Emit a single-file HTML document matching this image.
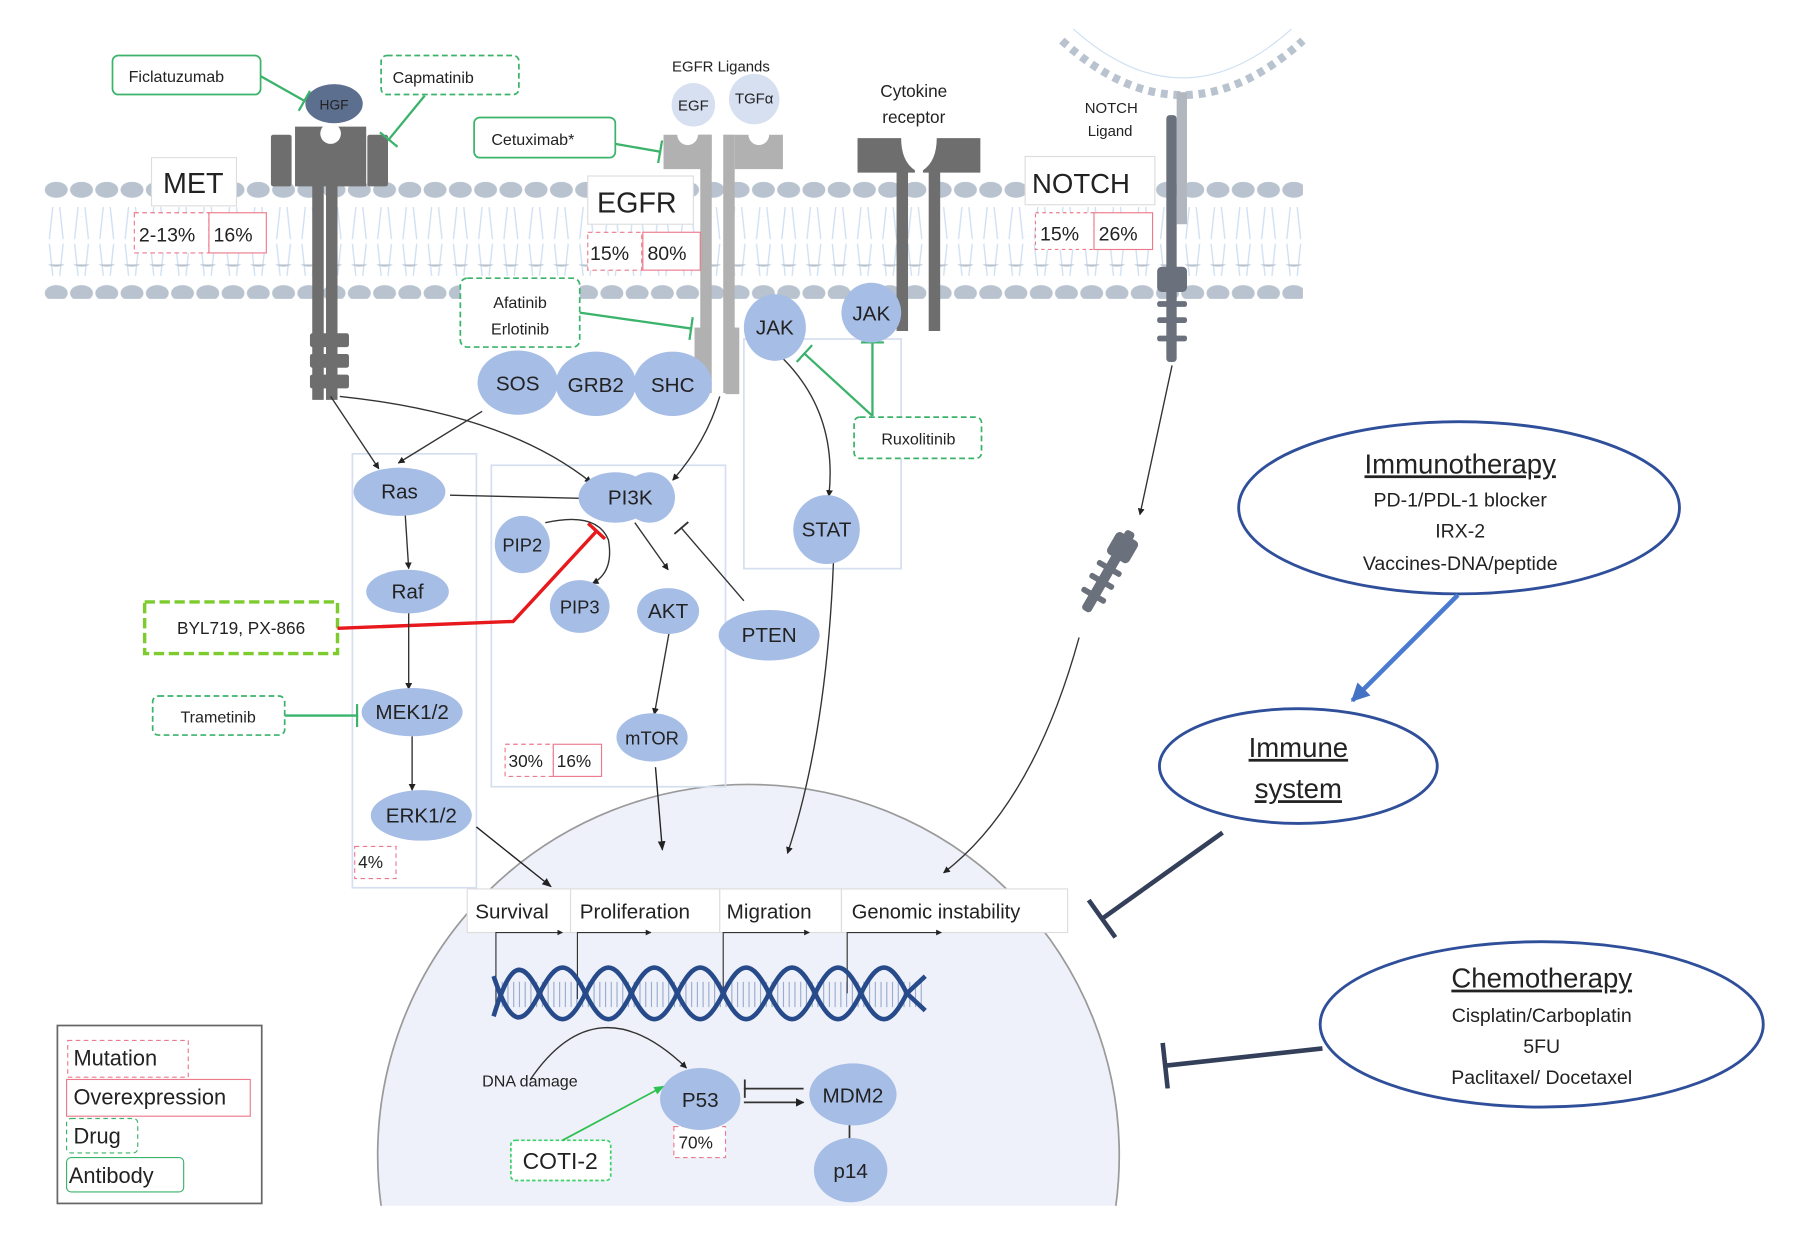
<!DOCTYPE html>
<html><head><meta charset="utf-8">
<style>
html,body{margin:0;padding:0;background:#fff;width:1800px;height:1244px;overflow:hidden;}
svg{display:block;}
text{font-family:"Liberation Sans",sans-serif;fill:#222;}
</style></head><body>
<svg width="1800" height="1244" viewBox="0 0 1568 1083" xmlns="http://www.w3.org/2000/svg">
<defs>
<pattern id="heads" x="38" y="0" width="22" height="30" patternUnits="userSpaceOnUse">
<ellipse cx="11" cy="15" rx="10" ry="7" fill="#b8c3cf"/>
</pattern>
<pattern id="tails" x="38" y="0" width="22" height="60" patternUnits="userSpaceOnUse">
<path d="M8 0 L5 28 M14 0 L17 28 M5 32 L8 60 M17 32 L14 60" stroke="#cfe0f3" stroke-width="1.2" fill="none"/>
</pattern>
<marker id="ar" viewBox="0 0 10 10" refX="9" refY="5" markerWidth="7" markerHeight="7" orient="auto"><path d="M0 1 L10 5 L0 9z" fill="#222"/></marker>
<marker id="arB" viewBox="0 0 10 10" refX="9" refY="5" markerWidth="5" markerHeight="5" orient="auto"><path d="M0 0 L10 5 L0 10z" fill="#222"/></marker>
<marker id="arBlue" viewBox="0 0 10 10" refX="9" refY="5" markerWidth="4" markerHeight="4" orient="auto"><path d="M0 0 L10 5 L0 10z" fill="#4472c4"/></marker>
<marker id="arG" viewBox="0 0 10 10" refX="9" refY="5" markerWidth="6" markerHeight="6" orient="auto"><path d="M0 1 L10 5 L0 9z" fill="#2ec04f"/></marker>
<marker id="tG" viewBox="0 0 4 20" refX="2" refY="10" markerWidth="4" markerHeight="20" markerUnits="userSpaceOnUse" orient="auto"><rect x="0" y="0" width="2" height="20" fill="#3bb36a"/></marker>
<marker id="tK" viewBox="0 0 4 20" refX="2" refY="10" markerWidth="4" markerHeight="16" markerUnits="userSpaceOnUse" orient="auto"><rect x="0" y="0" width="2" height="20" fill="#333"/></marker>
<marker id="tR" viewBox="0 0 4 20" refX="2" refY="10" markerWidth="4" markerHeight="22" markerUnits="userSpaceOnUse" orient="auto"><rect x="0" y="0" width="3" height="20" fill="#e8191c"/></marker>
<marker id="tBig" viewBox="0 0 4 40" refX="2" refY="20" markerWidth="5" markerHeight="40" markerUnits="userSpaceOnUse" orient="auto"><rect x="0" y="0" width="4" height="40" fill="#34405a"/></marker>
<clipPath id="nc"><rect x="0" y="0" width="1568" height="1050"/></clipPath>
</defs>

<rect x="38" y="180" width="1097" height="60" fill="url(#tails)"/>
<rect x="38" y="158" width="1097" height="30" fill="url(#heads)"/>
<rect x="38" y="230" width="1097" height="30" fill="url(#heads)"/>

<path d="M925 35 Q1030 130 1135 35" stroke="#b8c3cf" stroke-width="7" stroke-dasharray="6 5" fill="none"/>
<path d="M935 25 Q1030 110 1125 25" stroke="#cfe0f3" stroke-width="1" fill="none"/>
<rect x="1025" y="80" width="9" height="115" fill="#b2b7bf"/>

<g clip-path="url(#nc)">
<circle cx="652" cy="1006" r="323" fill="#eef1f9" stroke="#9a9a9a" stroke-width="1.5"/>
</g>

<rect x="307" y="395" width="108" height="378" fill="none" stroke="#d5dff0" stroke-width="1.5"/>
<rect x="428" y="405" width="204" height="280" fill="none" stroke="#d5dff0" stroke-width="1.5"/>
<rect x="648" y="295" width="137" height="200" fill="none" stroke="#d5dff0" stroke-width="1.5"/>

<g fill="#6e6e6e">
<rect x="236" y="117" width="18" height="45" rx="2"/>
<rect x="320" y="117" width="18" height="45" rx="2"/>
<path d="M257 110 h62 v52 h-62z"/>
<rect x="272" y="160" width="10" height="188"/>
<rect x="284" y="160" width="10" height="188"/>
<rect x="270" y="290" width="34" height="12" rx="2"/>
<rect x="270" y="308" width="34" height="12" rx="2"/>
<rect x="270" y="326" width="34" height="12" rx="2"/>
</g>
<circle cx="288" cy="116" r="9" fill="#fff"/>
<ellipse cx="291" cy="90" rx="25" ry="17" fill="#5d6f8e"/>
<text x="291" y="95" font-size="12" text-anchor="middle" fill="#2c3850">HGF</text>

<g fill="#b1b1b1">
<path d="M578 117 h42 v30 h-42z"/>
<path d="M640 117 h42 v30 h-42z"/>
<rect x="610" y="117" width="10" height="225"/>
<rect x="630" y="117" width="10" height="225"/>
<rect x="605" y="285" width="12" height="58"/>
<rect x="632" y="285" width="12" height="58"/>
</g>
<circle cx="599" cy="117" r="9" fill="#fff"/>
<circle cx="661" cy="117" r="9" fill="#fff"/>
<circle cx="604" cy="91" r="19" fill="#d6e0f1"/>
<text x="604" y="96" font-size="13" text-anchor="middle">EGF</text>
<circle cx="657" cy="86" r="22" fill="#d6e0f1"/>
<text x="657" y="90" font-size="13" text-anchor="middle">TGFα</text>
<text x="628" y="62" font-size="13" text-anchor="middle">EGFR Ligands</text>

<g fill="#6e6e6e">
<path d="M747 120 h38 q0 20 12 28 v2 h-6 v138 h-10 v-138 h-34z"/>
<path d="M854 120 h-38 q0 20 -12 28 v2 h5 v138 h10 v-138 h35z"/>
</g>
<text x="796" y="84" font-size="15" text-anchor="middle">Cytokine</text>
<text x="796" y="107" font-size="15" text-anchor="middle">receptor</text>

<g fill="#6a707c">
<rect x="1016" y="100" width="9" height="215" rx="3"/>
<rect x="1008" y="232" width="26" height="22" rx="4"/>
<rect x="1008" y="262" width="26" height="5" rx="2"/>
<rect x="1008" y="276" width="26" height="5" rx="2"/>
<rect x="1008" y="292" width="26" height="5" rx="2"/>
</g>
<text x="968" y="98" font-size="13" text-anchor="middle">NOTCH</text>
<text x="967" y="118" font-size="13" text-anchor="middle">Ligand</text>
<g fill="#6a707c" transform="translate(965,497) rotate(30)">
<rect x="-4" y="-40" width="9" height="80" rx="3"/>
<rect x="-10" y="-35" width="22" height="22" rx="4"/>
<rect x="-12" y="-5" width="24" height="5" rx="2"/>
<rect x="-12" y="8" width="24" height="5" rx="2"/>
<rect x="-12" y="22" width="24" height="5" rx="2"/>
</g>

<rect x="132" y="137" width="74" height="42" fill="#fff" stroke="#ddd"/>
<text x="142" y="168" font-size="25">MET</text>
<rect x="512" y="153" width="92" height="42" fill="#fff" stroke="#ddd"/>
<text x="520" y="185" font-size="25">EGFR</text>
<rect x="893" y="136" width="113" height="42" fill="#fff" stroke="#ddd"/>
<text x="899" y="168" font-size="24">NOTCH</text>

<g font-size="17">
<rect x="117" y="185" width="65" height="35" fill="#fff" stroke="#ec7a8c" stroke-dasharray="4 3"/>
<text x="121" y="210">2-13%</text>
<rect x="182" y="185" width="50" height="35" fill="#fff" stroke="#ec7a8c"/>
<text x="186" y="210">16%</text>
<rect x="512" y="202" width="47" height="33" fill="#fff" stroke="#ec7a8c" stroke-dasharray="4 3"/>
<text x="514" y="226">15%</text>
<rect x="560" y="202" width="50" height="33" fill="#fff" stroke="#ec7a8c"/>
<text x="564" y="226">80%</text>
<rect x="902" y="185" width="51" height="32" fill="#fff" stroke="#ec7a8c" stroke-dasharray="3 3"/>
<text x="906" y="209">15%</text>
<rect x="953" y="185" width="51" height="32" fill="#fff" stroke="#ec7a8c"/>
<text x="957" y="209">26%</text>
</g>
<g font-size="15">
<rect x="440" y="648" width="42" height="28" fill="#fff" stroke="#ec7a8c" stroke-dasharray="4 3"/>
<text x="443" y="668">30%</text>
<rect x="482" y="648" width="42" height="28" fill="#fff" stroke="#ec7a8c"/>
<text x="485" y="668">16%</text>
<rect x="309" y="737" width="36" height="28" fill="#fff" stroke="#ec7a8c" stroke-dasharray="4 3"/>
<text x="312" y="756">4%</text>
<rect x="587" y="981" width="45" height="27" fill="#fff" stroke="#ec7a8c" stroke-dasharray="4 3"/>
<text x="591" y="1000">70%</text>
</g>

<g font-size="14">
<rect x="98" y="48" width="129" height="34" rx="5" fill="#fff" stroke="#3bb36a" stroke-width="1.5"/>
<text x="112" y="71">Ficlatuzumab</text>
<rect x="332" y="48" width="120" height="34" rx="5" fill="#fff" stroke="#3bb36a" stroke-width="1.5" stroke-dasharray="5 3"/>
<text x="342" y="72">Capmatinib</text>
<rect x="413" y="102" width="123" height="35" rx="5" fill="#fff" stroke="#3bb36a" stroke-width="1.5"/>
<text x="428" y="126">Cetuximab*</text>
<rect x="401" y="242" width="104" height="60" rx="6" fill="#fff" stroke="#3bb36a" stroke-width="1.5" stroke-dasharray="5 3"/>
<text x="453" y="268" text-anchor="middle">Afatinib</text>
<text x="453" y="291" text-anchor="middle">Erlotinib</text>
<rect x="744" y="363" width="111" height="36" rx="5" fill="#fff" stroke="#3bb36a" stroke-width="1.5" stroke-dasharray="5 3"/>
<text x="800" y="387" text-anchor="middle">Ruxolitinib</text>
<rect x="133" y="606" width="115" height="34" rx="5" fill="#fff" stroke="#3bb36a" stroke-width="1.5" stroke-dasharray="5 3"/>
<text x="190" y="629" text-anchor="middle">Trametinib</text>
<rect x="126" y="524" width="168" height="45" fill="#fff" stroke="#7dcc2e" stroke-width="3" stroke-dasharray="9 4"/>
<text x="210" y="552" text-anchor="middle" font-size="15">BYL719, PX-866</text>
<rect x="445" y="993" width="87" height="35" rx="4" fill="#fff" stroke="#3bd06a" stroke-width="1.5" stroke-dasharray="3 2"/>
<text x="488" y="1018" text-anchor="middle" font-size="20">COTI-2</text>
</g>

<g stroke="#3bb36a" stroke-width="2" fill="none">
<path d="M227 66 L266 88" marker-end="url(#tG)"/>
<path d="M370 83 L338 122" marker-end="url(#tG)"/>
<path d="M536 125 L576 132" marker-end="url(#tG)"/>
<path d="M505 272 L603 286" marker-end="url(#tG)"/>
<path d="M760 362 L760 297" marker-end="url(#tG)"/>
<path d="M760 362 L700 307" marker-end="url(#tG)"/>
<path d="M248 623 L312 623" marker-end="url(#tG)"/>
</g>
<path d="M294 547 L447 541 L520 462" stroke="#e8191c" stroke-width="3" fill="none" marker-end="url(#tR)"/>
<path d="M490 993 L578 946" stroke="#2ec04f" stroke-width="1.5" fill="none" marker-end="url(#arG)"/>

<g stroke="#333" stroke-width="1.2" fill="none" marker-end="url(#arB)">
<path d="M288 345 L330 408"/>
<path d="M296 345 Q440 360 515 420"/>
<path d="M420 358 L347 403"/>
<path d="M627 345 Q615 385 586 418"/>
<path d="M392 431 L515 434"/>
<path d="M353 448 L356 495"/>
<path d="M356 533 L356 600"/>
<path d="M359 641 L359 688"/>
<path d="M682 312 Q730 360 722 432"/>
<path d="M553 455 L582 496"/>
<path d="M583 550 L570 622"/>
<path d="M1021 318 L993 448"/>
<path d="M940 555 Q900 700 822 760"/>
<path d="M726 490 Q720 640 686 743"/>
</g>
<path d="M648 523 L593 459" stroke="#333" stroke-width="1.2" fill="none" marker-end="url(#tK)"/>
<path d="M475 455 Q520 445 530 470 Q535 498 516 508" stroke="#333" stroke-width="1.2" fill="none" marker-end="url(#arB)"/>
<g stroke="#222" stroke-width="1.2" fill="none" marker-end="url(#ar)">
<path d="M415 720 L480 772"/>
<path d="M571 668 L577 740"/>
</g>
<path d="M462 940 Q520 855 598 930" stroke="#333" stroke-width="1.2" fill="none" marker-end="url(#arB)"/>
<path d="M700 948 L648 948" stroke="#333" stroke-width="1.5" fill="none" marker-end="url(#tK)"/>
<path d="M648 960 L700 960" stroke="#333" stroke-width="1.5" fill="none" marker-end="url(#arB)"/>
<path d="M740 995 L740 972" stroke="#333" stroke-width="1.5" fill="none" marker-end="url(#tK)"/>

<g fill="#a6bde6">
<ellipse cx="348" cy="428" rx="40" ry="21"/>
<ellipse cx="355" cy="515" rx="36" ry="19"/>
<ellipse cx="359" cy="620" rx="44" ry="21"/>
<ellipse cx="367" cy="710" rx="44" ry="22"/>
<ellipse cx="451" cy="333" rx="35" ry="28"/>
<ellipse cx="519" cy="334" rx="35" ry="28"/>
<ellipse cx="586" cy="334" rx="34" ry="28"/>
<ellipse cx="536" cy="433" rx="32" ry="22"/>
<ellipse cx="566" cy="433" rx="22" ry="22"/>
<ellipse cx="455" cy="474" rx="24" ry="25"/>
<ellipse cx="505" cy="528" rx="26" ry="23"/>
<ellipse cx="582" cy="532" rx="27" ry="20"/>
<ellipse cx="670" cy="553" rx="44" ry="22"/>
<ellipse cx="568" cy="642" rx="31" ry="21"/>
<ellipse cx="675" cy="285" rx="27" ry="29"/>
<ellipse cx="759" cy="272" rx="26" ry="26"/>
<ellipse cx="720" cy="461" rx="29" ry="30"/>
<ellipse cx="610" cy="957" rx="35" ry="27"/>
<ellipse cx="743" cy="953" rx="38" ry="27"/>
<ellipse cx="741" cy="1019" rx="32" ry="28"/>
</g>
<g font-size="18" text-anchor="middle">
<text x="348" y="434">Ras</text>
<text x="355" y="521">Raf</text>
<text x="359" y="626">MEK1/2</text>
<text x="367" y="716">ERK1/2</text>
<text x="451" y="340">SOS</text>
<text x="519" y="341">GRB2</text>
<text x="586" y="341">SHC</text>
<text x="549" y="439">PI3K</text>
<text x="455" y="480" font-size="16">PIP2</text>
<text x="505" y="534" font-size="16">PIP3</text>
<text x="582" y="538">AKT</text>
<text x="670" y="559">PTEN</text>
<text x="568" y="648" font-size="16">mTOR</text>
<text x="675" y="291">JAK</text>
<text x="759" y="279">JAK</text>
<text x="720" y="467">STAT</text>
<text x="610" y="964">P53</text>
<text x="743" y="960">MDM2</text>
<text x="741" y="1026">p14</text>
</g>

<g font-size="18">
<rect x="407" y="774" width="90" height="38" fill="#fff" stroke="#ddd"/>
<text x="414" y="800">Survival</text>
<rect x="497" y="774" width="130" height="38" fill="#fff" stroke="#ddd"/>
<text x="505" y="800">Proliferation</text>
<rect x="627" y="774" width="106" height="38" fill="#fff" stroke="#ddd"/>
<text x="633" y="800">Migration</text>
<rect x="733" y="774" width="197" height="38" fill="#fff" stroke="#ddd"/>
<text x="742" y="800" font-size="17.5">Genomic instability</text>
</g>
<g stroke="#333" stroke-width="1" fill="none" marker-end="url(#arB)">
<path d="M432 880 V812 H490"/>
<path d="M503 870 V812 H567"/>
<path d="M630 865 V812 H705"/>
<path d="M738 865 V812 H820"/>
</g>

<path d="M432 866 H806" stroke="#4a6aa8" stroke-width="22" stroke-dasharray="1 4" opacity="0.5"/>
<g fill="none" stroke="#274a8a" stroke-width="4">
<path d="M430 885 C445 835 455 835 470 865 S495 895 510 865 S535 835 550 865 S575 895 590 865 S615 835 630 865 S655 895 670 865 S695 835 710 865 S735 895 750 865 S775 835 790 865 L806 880"/>
<path d="M430 850 C445 895 455 895 470 865 S495 835 510 865 S535 895 550 865 S575 835 590 865 S615 895 630 865 S655 835 670 865 S695 895 710 865 S735 835 750 865 S775 895 790 865 L806 850"/>
</g>

<text x="420" y="946" font-size="14">DNA damage</text>

<rect x="50" y="893" width="178" height="155" fill="#fff" stroke="#666" stroke-width="1.5"/>
<g font-size="19">
<rect x="59" y="906" width="105" height="32" fill="none" stroke="#ec7a8c" stroke-dasharray="4 3"/>
<text x="64" y="928">Mutation</text>
<rect x="58" y="940" width="160" height="32" fill="none" stroke="#ec7a8c"/>
<text x="64" y="962">Overexpression</text>
<rect x="58" y="974" width="62" height="30" rx="4" fill="none" stroke="#3bb36a" stroke-dasharray="4 3"/>
<text x="64" y="996">Drug</text>
<rect x="58" y="1008" width="102" height="30" rx="4" fill="none" stroke="#3bb36a"/>
<text x="60" y="1030">Antibody</text>
</g>

<ellipse cx="1271" cy="442" rx="192" ry="75" fill="#fff" stroke="#2f4f9a" stroke-width="2.5"/>
<text x="1272" y="412" font-size="24" text-anchor="middle" text-decoration="underline">Immunotherapy</text>
<text x="1272" y="441" font-size="17" text-anchor="middle">PD-1/PDL-1 blocker</text>
<text x="1272" y="468" font-size="17" text-anchor="middle">IRX-2</text>
<text x="1272" y="496" font-size="17" text-anchor="middle">Vaccines-DNA/peptide</text>
<path d="M1270 518 L1178 610" stroke="#4a7bd0" stroke-width="4" fill="none" marker-end="url(#arBlue)"/>
<ellipse cx="1131" cy="667" rx="121" ry="50" fill="#fff" stroke="#2f4f9a" stroke-width="2.5"/>
<text x="1131" y="659" font-size="24" text-anchor="middle" text-decoration="underline">Immune</text>
<text x="1131" y="695" font-size="24" text-anchor="middle" text-decoration="underline">system</text>
<path d="M1065 725 L960 800" stroke="#34405a" stroke-width="4" fill="none" marker-end="url(#tBig)"/>
<ellipse cx="1343" cy="892" rx="193" ry="72" fill="#fff" stroke="#2f4f9a" stroke-width="2.5"/>
<text x="1343" y="860" font-size="24" text-anchor="middle" text-decoration="underline">Chemotherapy</text>
<text x="1343" y="890" font-size="17" text-anchor="middle">Cisplatin/Carboplatin</text>
<text x="1343" y="917" font-size="17" text-anchor="middle">5FU</text>
<text x="1343" y="944" font-size="17" text-anchor="middle">Paclitaxel/ Docetaxel</text>
<path d="M1152 913 L1015 928" stroke="#34405a" stroke-width="4" fill="none" marker-end="url(#tBig)"/>
</svg>
</body></html>
